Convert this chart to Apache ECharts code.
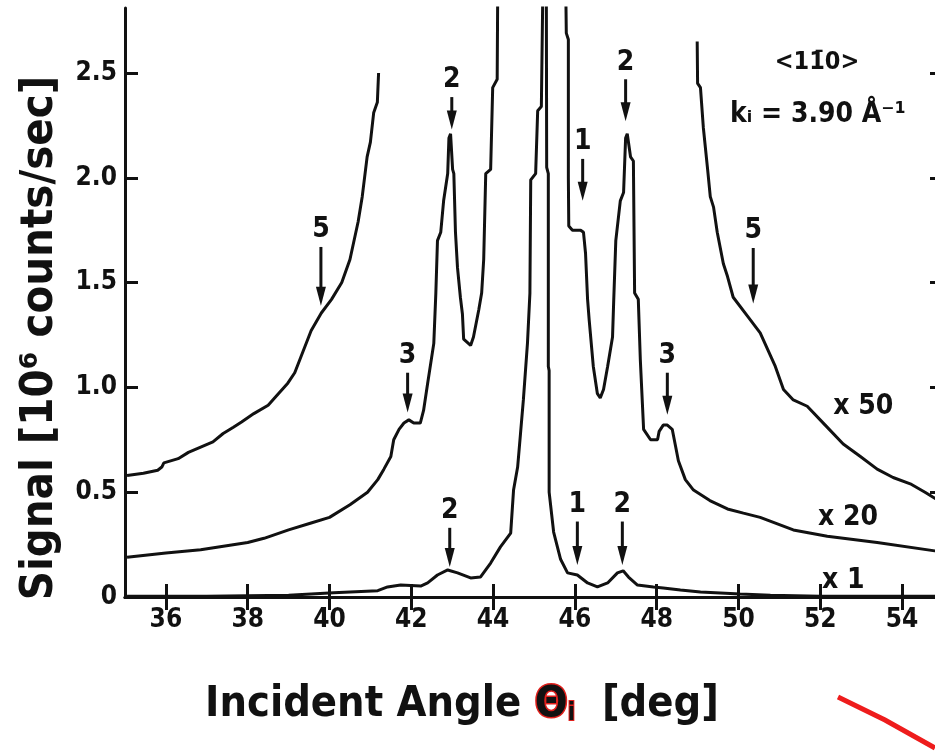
<!DOCTYPE html>
<html>
<head>
<meta charset="utf-8">
<script src="https://cdn.jsdelivr.net/npm/echarts/dist/echarts.min.js"></script>
<style>
  html, body { margin: 0; padding: 0; background: #fff; overflow: hidden; }
  /* plot frame runs a little past the right edge of the window, as in the scan */
  #chart { width: 943px; height: 754px; }
</style>
</head>
<body>
<div id="chart"></div>
<script>
const xTicks = [36, 38, 40, 42, 44, 46, 48, 50, 52, 54]
const yTicks = [0, 0.5, 1, 1.5, 2, 2.5]

// signal x 50 (ends at both sides of the off-scale region)
const signalX50 = [
  [35.05, 0.58], [35.45, 0.59], [35.8, 0.605], [35.9, 0.62], [35.95, 0.64], [36.3, 0.66],
  [36.55, 0.69], [36.85, 0.715], [37.15, 0.74], [37.4, 0.78], [37.65, 0.81], [37.85, 0.835],
  [38.15, 0.875], [38.5, 0.915], [38.75, 0.97], [38.98, 1.02], [39.15, 1.07], [39.3, 1.145],
  [39.55, 1.27], [39.8, 1.355], [40.05, 1.42], [40.3, 1.5], [40.5, 1.61], [40.7, 1.79],
  [40.8, 1.91], [40.92, 2.1], [41.0, 2.17], [41.08, 2.31], [41.17, 2.36], [41.2, 2.5],
  [45, '-'],
  [48.99, 2.65], [49.0, 2.45], [49.07, 2.43], [49.14, 2.24], [49.24, 2.05], [49.31, 1.91],
  [49.39, 1.86], [49.48, 1.74], [49.63, 1.59], [49.73, 1.53], [49.87, 1.43], [50.22, 1.34],
  [50.53, 1.26], [50.9, 1.1], [51.1, 0.99], [51.34, 0.94], [51.68, 0.91], [52.12, 0.82],
  [52.56, 0.73], [52.98, 0.67], [53.39, 0.61], [53.78, 0.57], [54.2, 0.54], [54.56, 0.5],
  [54.81, 0.47], [55, 0.46]
]

const signalX20 = [
  [35.05, 0.19], [36, 0.21], [36.85, 0.225], [38, 0.26], [38.4, 0.28], [39, 0.32],
  [39.55, 0.353], [40, 0.38], [40.5, 0.44], [40.93, 0.5], [41.18, 0.56], [41.33, 0.61],
  [41.5, 0.67], [41.57, 0.75], [41.7, 0.8], [41.82, 0.83], [41.94, 0.845], [42.06, 0.83],
  [42.22, 0.83], [42.3, 0.89], [42.4, 1.02], [42.55, 1.21], [42.6, 1.45], [42.64, 1.7],
  [42.72, 1.74], [42.79, 1.89], [42.89, 2.02], [42.92, 2.19], [42.96, 2.21], [43.01, 2.04],
  [43.04, 2.02], [43.08, 1.74], [43.13, 1.57], [43.2, 1.43], [43.25, 1.35], [43.28, 1.23],
  [43.45, 1.2], [43.52, 1.24], [43.65, 1.37], [43.72, 1.45], [43.77, 1.61], [43.82, 2.02],
  [43.94, 2.04], [43.99, 2.43], [44.1, 2.47], [44.11, 2.8], [44.12, 3.0],
  [45, '-'],
  [45.77, 3.0], [45.79, 2.69], [45.84, 2.66], [45.84, 2.0], [45.85, 1.77], [45.94, 1.75],
  [46.14, 1.75], [46.21, 1.74], [46.26, 1.64], [46.31, 1.42], [46.35, 1.32], [46.45, 1.1],
  [46.55, 0.97], [46.62, 0.95], [46.7, 0.99], [46.8, 1.1], [46.92, 1.24], [46.95, 1.42],
  [47.0, 1.7], [47.11, 1.89], [47.19, 1.93], [47.24, 2.19], [47.28, 2.21], [47.36, 2.1],
  [47.43, 2.08], [47.46, 1.45], [47.55, 1.42], [47.6, 1.13], [47.68, 0.8], [47.85, 0.75],
  [48.02, 0.75], [48.06, 0.79], [48.16, 0.82], [48.26, 0.82], [48.38, 0.8], [48.46, 0.72],
  [48.53, 0.65], [48.7, 0.56], [48.9, 0.51], [49.3, 0.46], [49.73, 0.42], [50.12, 0.4],
  [50.53, 0.38], [51.34, 0.32], [52.17, 0.29], [53.39, 0.26], [54.8, 0.22], [55, 0.215]
]

const signalX1 = [
  [35.05, 0.004], [37, 0.004], [39, 0.008], [40.1, 0.02], [41.18, 0.03], [41.42, 0.048],
  [41.74, 0.057], [42.23, 0.052], [42.4, 0.067], [42.64, 0.105], [42.89, 0.129], [43.13, 0.115],
  [43.45, 0.091], [43.69, 0.095], [43.94, 0.162], [44.18, 0.239], [44.43, 0.305], [44.5, 0.51],
  [44.6, 0.62], [44.67, 0.78], [44.74, 0.94], [44.84, 1.21], [44.9, 1.45], [44.92, 1.99],
  [45.04, 2.02], [45.09, 2.32], [45.18, 2.34], [45.21, 2.8], [45.22, 3.0],
  [45.26, '-'],
  [45.3, 3.0], [45.31, 2.05], [45.35, 2.02], [45.35, 1.1], [45.37, 1.08], [45.37, 0.5],
  [45.48, 0.31], [45.65, 0.18], [45.82, 0.115], [46.06, 0.105], [46.31, 0.067], [46.55, 0.048],
  [46.8, 0.067], [47.04, 0.115], [47.18, 0.125], [47.31, 0.095], [47.53, 0.057], [47.92, 0.048],
  [48.16, 0.043], [48.58, 0.033], [49.07, 0.024], [50.04, 0.014], [50.78, 0.008], [52, 0.004],
  [55, 0.003]
]

// arrows: [angle, signal at tail, signal at head]
const arrowMarks = [
  [39.79, 1.67, 1.39], [41.91, 1.07, 0.88], [42.99, 2.385, 2.23], [42.94, 0.33, 0.143],
  [46.19, 2.09, 1.89], [47.24, 2.47, 2.27], [50.36, 1.665, 1.40], [48.26, 1.07, 0.87],
  [46.06, 0.36, 0.153], [47.16, 0.36, 0.153]
]
const arrowLabels = ['5', '3', '2', '2', '1', '2', '5', '3', '1', '2']

const curveTags = [[53.05, 0.91], [52.68, 0.38], [52.56, 0.08], [51.92, 2.55], [51.94, 2.3]]
const curveTagLabels = ['x 50', 'x 20', 'x 1', '<1\u0031\u03040>', 'k\u1d62 = 3.90 \u00c5\u207b\u00b9']
const curveTagSizes = [28, 28, 28, 25, 28]

const FONT = "'DejaVu Sans Condensed', 'DejaVu Sans', sans-serif"
const INK = '#111'

let chart = echarts.init(document.getElementById('chart'), null, { renderer: 'canvas' })

function curve(name, data) {
  return {
    name: name,
    type: 'line',
    data: data,
    showSymbol: false,
    connectNulls: false,
    clip: true,
    lineStyle: { color: INK, width: 3 },
    animation: false
  }
}

chart.setOption({
  animation: false,
  grid: { left: 125, top: 8, right: 0, bottom: 157 },
  xAxis: [
    {
      type: 'value',
      min: 35,
      max: 55,
      axisLine: { lineStyle: { color: INK, width: 3 } },
      axisTick: { inside: true, length: 13, lineStyle: { color: INK, width: 3 }, customValues: xTicks },
      axisLabel: {
        customValues: xTicks,
        color: INK,
        fontFamily: FONT,
        fontWeight: 'bold',
        fontSize: 26,
        margin: 10
      },
      splitLine: { show: false }
    },
    {
      type: 'value',
      position: 'top',
      min: 35,
      max: 55,
      axisLine: { lineStyle: { color: INK, width: 3 } },
      axisTick: { inside: true, length: 13, lineStyle: { color: INK, width: 3 }, customValues: xTicks },
      axisLabel: { show: false },
      splitLine: { show: false }
    }
  ],
  yAxis: [
    {
      type: 'value',
      min: 0,
      max: 2.81,
      axisLine: { show: true, lineStyle: { color: INK, width: 3 } },
      axisTick: { show: true, inside: true, length: 13, lineStyle: { color: INK, width: 3 }, customValues: yTicks },
      axisLabel: {
        customValues: yTicks,
        color: INK,
        fontFamily: FONT,
        fontWeight: 'bold',
        fontSize: 26,
        margin: 8,
        formatter: function (v) { return v === 0 ? '0' : v.toFixed(1) }
      },
      splitLine: { show: false }
    },
    {
      type: 'value',
      position: 'right',
      min: 0,
      max: 2.81,
      axisLine: { show: true, lineStyle: { color: INK, width: 3 } },
      axisTick: { show: true, inside: true, length: 13, lineStyle: { color: INK, width: 3 }, customValues: yTicks },
      axisLabel: { show: false },
      splitLine: { show: false }
    }
  ],
  series: [
    curve('x 50', signalX50),
    curve('x 20', signalX20),
    curve('x 1', signalX1),
    {
      // numbered arrows
      type: 'custom',
      data: arrowMarks,
      encode: { x: 0, y: [1, 2] },
      clip: false,
      renderItem: function (params, api) {
        let p1 = api.coord([api.value(0), api.value(1)])
        let p2 = api.coord([api.value(0), api.value(2)])
        return {
          type: 'group',
          children: [
            {
              type: 'line',
              shape: { x1: p1[0], y1: p1[1], x2: p2[0], y2: p2[1] - 12 },
              style: { stroke: INK, lineWidth: 3 }
            },
            {
              type: 'polygon',
              shape: { points: [[p2[0] - 5, p2[1] - 19], [p2[0] + 5, p2[1] - 19], [p2[0], p2[1]]] },
              style: { fill: INK }
            },
            {
              type: 'text',
              x: p1[0],
              y: p1[1] - 3,
              style: {
                text: arrowLabels[params.dataIndex],
                font: 'bold 28px ' + FONT,
                fill: INK,
                align: 'center',
                verticalAlign: 'bottom'
              }
            }
          ]
        }
      }
    },
    {
      // curve multipliers and crystal info
      type: 'custom',
      data: curveTags,
      encode: { x: 0, y: 1 },
      clip: false,
      renderItem: function (params, api) {
        let p = api.coord([api.value(0), api.value(1)])
        return {
          type: 'text',
          x: p[0],
          y: p[1],
          style: {
            text: curveTagLabels[params.dataIndex],
            font: 'bold ' + curveTagSizes[params.dataIndex] + 'px ' + FONT,
            fill: INK,
            align: 'center',
            verticalAlign: 'middle'
          }
        }
      }
    }
  ],
  graphic: [
    {
      type: 'text',
      x: 40,
      y: 338,
      rotation: Math.PI / 2,
      style: {
        text: 'Signal [10\u2076 counts/sec]',
        font: 'bold 45px ' + FONT,
        fill: INK,
        align: 'center',
        verticalAlign: 'middle'
      }
    },
    {
      type: 'text',
      x: 462,
      y: 705,
      style: {
        text: '{a|Incident Angle }{t|\u0398}{s|i}{a|  [deg]}',
        fill: INK,
        align: 'center',
        verticalAlign: 'middle',
        rich: {
          a: { font: 'bold 43px ' + FONT, fill: INK },
          t: { font: 'bold 43px ' + FONT, fill: INK, stroke: '#e0201c', lineWidth: 3, strokeFirst: true },
          s: { font: 'bold 24px ' + FONT, fill: INK, stroke: '#e0201c', lineWidth: 2, strokeFirst: true, padding: [18, 0, 0, 0] }
        }
      }
    },
    {
      // red pen stroke on the scan
      type: 'polyline',
      shape: { points: [[838, 697], [885, 720], [935, 748]] },
      style: { stroke: '#ee1c1c', lineWidth: 5 }
    }
  ]
})
</script>
</body>
</html>
